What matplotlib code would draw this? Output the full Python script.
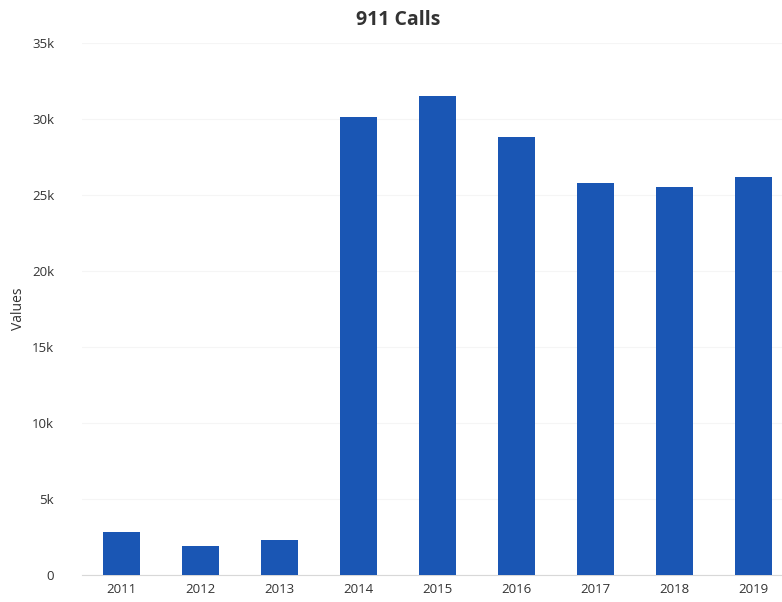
import matplotlib
matplotlib.use("Agg")
import matplotlib.pyplot as plt
from matplotlib.ticker import FuncFormatter

years = ["2011", "2012", "2013", "2014", "2015", "2016", "2017", "2018", "2019"]
calls = [2850, 1900, 2280, 30100, 31500, 28800, 25800, 25500, 26200]
yticks = [0, 5000, 10000, 15000, 20000, 25000, 30000, 35000]

plt.rcParams['font.family'] = ['Open Sans', 'DejaVu Sans']

fig = plt.figure(figsize=(7.82, 6.02), dpi=100)
ax = fig.add_axes([82/782, 27/602, 700/782, (575-43)/602])

x = list(range(len(years)))
ax.bar(x, calls, width=0.47, color="#1a56b4", zorder=3)

ax.set_xlim(-0.5, 8.36)
ax.set_ylim(0, 35000)
ax.set_yticks(yticks)
ax.yaxis.set_major_formatter(FuncFormatter(lambda v, p: "0" if v == 0 else f"{int(v/1000)}k"))
ax.set_xticks(x)
ax.set_xticklabels(years)

for s in ["top", "right", "left"]:
    ax.spines[s].set_visible(False)
ax.spines["bottom"].set_color("#d8d8d8")
ax.tick_params(axis="both", length=0, colors="#333333", labelsize=9.5)
ax.tick_params(axis="y", pad=20)
ax.tick_params(axis="x", pad=6)
ax.grid(axis="y", color="#f5f5f5", linewidth=0.8, zorder=0)

ax.set_ylabel("Values", fontsize=10, color="#333333", labelpad=4)
fig.text(398/782, 1 - 20/602, "911 Calls", ha="center", va="center",
         fontsize=14, fontweight="bold", color="#333333")

fig.savefig("out.png", dpi=100, facecolor="white")
